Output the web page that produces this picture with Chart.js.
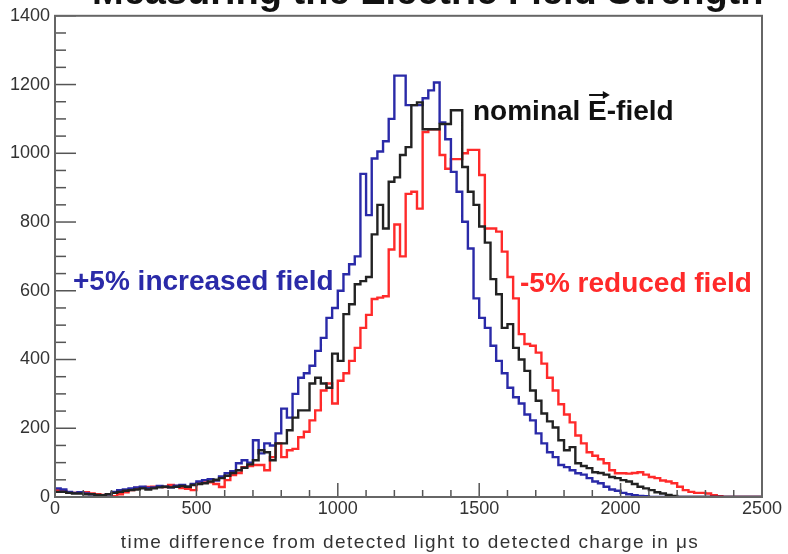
<!DOCTYPE html>
<html>
<head>
<meta charset="utf-8">
<script src="https://cdn.jsdelivr.net/npm/chart.js@4.4.1/dist/chart.umd.min.js"></script>
<style>
html, body { margin: 0; padding: 0; background: #fff; }
</style>
</head>
<body>
<canvas id="chart" width="788" height="554"></canvas>
<script>
// histogram binning (µs)
const binWidth = 20;
const xMin = 0, xMax = 2500, xMajor = 500, xMinor = 100;
const yMin = 0, yMax = 1400, yMajor = 200, yMinor = 50;

// counts per 20 µs bin
const blueCounts = [
    25, 22, 15, 12, 14, 10, 8, 5, 3, 8,
    15, 20, 22, 25, 28, 30, 26, 28, 32, 30,
    28, 33, 35, 30, 38, 45, 49, 52, 48, 60,
    69, 75, 98, 107, 100, 165, 127, 156, 150, 185,
    257, 231, 300, 347, 360, 382, 425, 463, 521, 550,
    600, 648, 677, 700, 940, 820, 985, 1005, 1035, 1100,
    1226, 1226, 1140, 1140, 1140, 1160, 1183, 1206, 1090, 1041,
    946, 888, 801, 723, 578, 521, 492, 440, 396, 360,
    318, 290, 272, 240, 223, 185, 156, 130, 116, 93,
    87, 78, 69, 65, 55, 45, 40, 30, 22, 18,
    12, 8, 5, 3, 2, 0, 0, 0, 0, 0,
    0, 0, 0, 0, 0, 0, 0, 0, 0, 0,
    0, 0, 0, 0, 0
];
const blackCounts = [
    15, 15, 12, 10, 10, 8, 8, 6, 5, 8,
    12, 15, 18, 20, 22, 25, 22, 25, 28, 30,
    28, 30, 32, 30, 35, 38, 40, 45, 50, 55,
    62, 70, 78, 85, 95, 107, 136, 130, 107, 156,
    156, 194, 231, 252, 252, 330, 347, 330, 318, 417,
    396, 532, 561, 619, 628, 640, 764, 850, 781, 917,
    930, 995, 1018, 1140, 1148, 1070, 1070, 1070, 1085, 1085,
    1125, 1125, 960, 888, 850, 787, 740, 634, 590, 492,
    503, 434, 400, 367, 310, 280, 243, 220, 202, 165,
    136, 145, 98, 90, 84, 72, 70, 65, 58, 55,
    49, 45, 38, 30, 25, 20, 14, 10, 6, 3,
    0, 0, 0, 0, 0, 0, 0, 0, 0, 0,
    0, 0, 0, 0, 0
];
const redCounts = [
    20, 18, 12, 12, 14, 14, 10, 8, 6, 0,
    2, 8, 14, 20, 26, 28, 29, 30, 30, 29,
    35, 32, 26, 24, 20, 40, 42, 43, 38, 29,
    49, 64, 70, 87, 90, 93, 93, 78, 116, 156,
    116, 136, 140, 174, 190, 223, 252, 310, 330, 272,
    338, 360, 396, 434, 492, 530, 576, 580, 584, 720,
    793, 700, 882, 888, 839, 1062, 1070, 1070, 995, 955,
    983, 983, 1000, 1010, 1010, 937, 781, 781, 772, 714,
    640, 578, 474, 445, 440, 420, 388, 347, 310, 270,
    240, 217, 179, 156, 130, 120, 110, 98, 78, 69,
    69, 68, 70, 72, 65, 58, 55, 48, 45, 40,
    30, 20, 15, 12, 12, 10, 5, 2, 0, 0,
    0, 0, 0, 0, 0
];

const seriesNames = ['nominal field', '+5% increased field', '-5% reduced field'];
const seriesColors = ['#222222', '#2a2aa8', '#ff2a2a'];

const titleText = 'Measuring the Electric Field Strength';
const xTitle = 'time difference from detected light to detected charge in \u03bcs';
const fontFamily = '"Liberation Sans", Arial, Helvetica, sans-serif';

// left bin edges -> points for a step line, closing point at the last edge
function toSteps(counts) {
    let pts = counts.map((c, i) => ({x: xMin + i * binWidth, y: c}));
    pts.push({x: xMin + counts.length * binWidth, y: counts[counts.length - 1]});
    return pts;
}

// frame and inward ROOT-style ticks
const rootFrame = {
    id: 'rootFrame',
    afterDatasetsDraw(chart) {
        const {ctx, chartArea: a, scales: {x, y}} = chart;
        ctx.save();
        ctx.strokeStyle = '#555';
        ctx.lineWidth = 1.5;
        for (let v = xMin; v <= xMax; v += xMinor) {
            let px = x.getPixelForValue(v);
            let len = v % xMajor === 0 ? 14 : 7;
            ctx.beginPath();
            ctx.moveTo(px, a.bottom);
            ctx.lineTo(px, a.bottom - len);
            ctx.stroke();
        }
        for (let v = yMin; v <= yMax; v += yMinor) {
            let py = y.getPixelForValue(v);
            let len = v % yMajor === 0 ? 21 : 11;
            ctx.beginPath();
            ctx.moveTo(a.left, py);
            ctx.lineTo(a.left + len, py);
            ctx.stroke();
        }
        ctx.lineWidth = 2;
        ctx.strokeStyle = '#666';
        ctx.strokeRect(a.left, a.top, a.width, a.height);
        ctx.restore();
    }
};

// slide title (cut off at the top), axis title and the in-plot labels
const labels = {
    id: 'labels',
    afterDraw(chart) {
        const ctx = chart.ctx;
        const a = chart.chartArea;
        ctx.save();
        ctx.textBaseline = 'alphabetic';
        ctx.textAlign = 'left';

        ctx.fillStyle = '#111';
        ctx.font = 'bold 38px ' + fontFamily;
        ctx.fillText(titleText, 92, 4);

        // x axis title, a bit spread out like the original
        ctx.fillStyle = '#333';
        ctx.font = '19px ' + fontFamily;
        ctx.textAlign = 'center';
        if ('letterSpacing' in ctx) ctx.letterSpacing = '1.4px';
        ctx.fillText(xTitle, 410, 548);
        if ('letterSpacing' in ctx) ctx.letterSpacing = '0px';
        ctx.textAlign = 'left';

        ctx.font = 'bold 28px ' + fontFamily;
        ctx.fillStyle = seriesColors[1];
        ctx.fillText(seriesNames[1], 73, 290);
        ctx.fillStyle = seriesColors[2];
        ctx.fillText(seriesNames[2], 520, 292);

        // nominal E-field with vector arrow over the E
        ctx.fillStyle = '#111';
        let x0 = 473, base = 120;
        ctx.fillText('nominal ', x0, base);
        let xe = x0 + ctx.measureText('nominal ').width;
        ctx.fillText('E', xe, base);
        let we = ctx.measureText('E').width;
        ctx.fillText('-field', xe + we, base);
        let ay = base - 25;
        ctx.strokeStyle = '#111';
        ctx.lineWidth = 2;
        ctx.beginPath();
        ctx.moveTo(xe + 1, ay);
        ctx.lineTo(xe + we + 1, ay);
        ctx.stroke();
        ctx.beginPath();
        ctx.moveTo(xe + we + 3, ay);
        ctx.lineTo(xe + we - 4, ay - 4);
        ctx.lineTo(xe + we - 4, ay + 4);
        ctx.closePath();
        ctx.fill();
        ctx.restore();
    }
};

const allCounts = [blackCounts, blueCounts, redCounts];

new Chart(document.getElementById('chart').getContext('2d'), {
    type: 'line',
    data: {
        datasets: allCounts.map((counts, k) => ({
            label: seriesNames[k],
            data: toSteps(counts),
            borderColor: seriesColors[k],
            borderWidth: 2.4,
            stepped: true,
            pointRadius: 0,
            fill: false
        }))
    },
    options: {
        responsive: false,
        devicePixelRatio: 1,
        animation: false,
        layout: {padding: {left: 0, top: 13, right: 26, bottom: 0}},
        plugins: {
            legend: {display: false},
            tooltip: {enabled: false},
            title: {display: false}
        },
        scales: {
            x: {
                type: 'linear',
                min: xMin,
                max: xMax,
                afterFit: scale => { scale.height = 57; },
                grid: {display: false, drawTicks: false},
                border: {display: false},
                ticks: {
                    stepSize: xMajor,
                    autoSkip: false,
                    maxRotation: 0,
                    padding: 1,
                    color: '#333',
                    font: {family: fontFamily, size: 18},
                    callback: v => String(v)
                }
            },
            y: {
                min: yMin,
                max: yMax,
                afterFit: scale => { scale.width = 55; },
                grid: {display: false, drawTicks: false},
                border: {display: false},
                ticks: {
                    stepSize: yMajor,
                    padding: 5,
                    color: '#333',
                    font: {family: fontFamily, size: 18},
                    callback: v => String(v)
                }
            }
        }
    },
    plugins: [rootFrame, labels]
});
</script>
</body>
</html>
